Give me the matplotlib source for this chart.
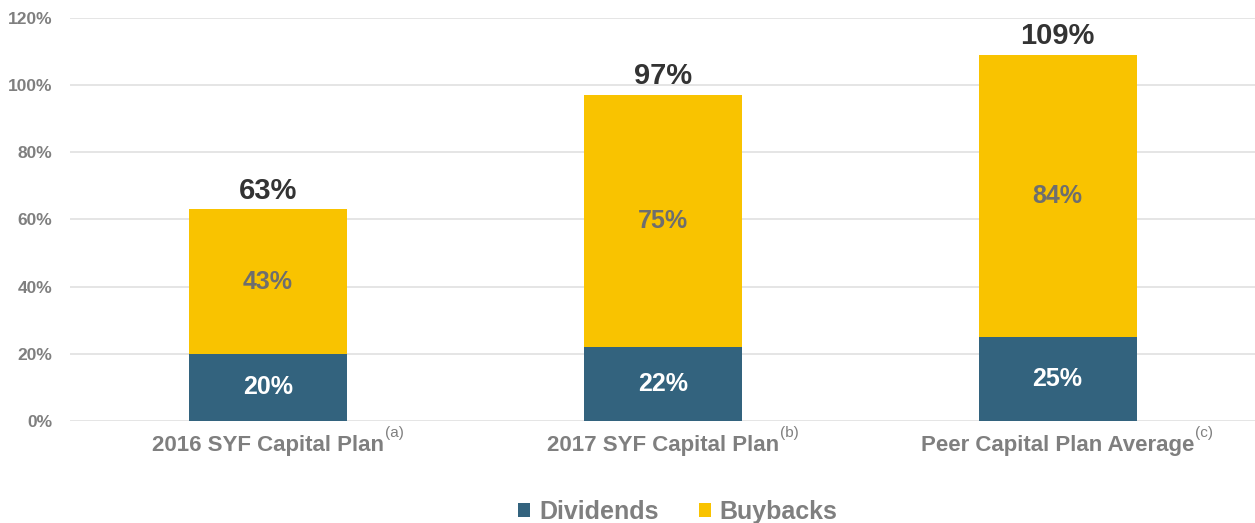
import matplotlib.pyplot as plt
import numpy as np

plt.rcParams['font.family'] = ['Liberation Sans', 'DejaVu Sans']

plans = ["2016 SYF Capital Plan", "2017 SYF Capital Plan", "Peer Capital Plan Average"]
notes = ["(a)", "(b)", "(c)"]
dividends = [20, 22, 25]
buybacks = [43, 75, 84]
totals = [63, 97, 109]

blue = "#33637e"
gold = "#f9c300"
grey = "#7f7f7f"

fig = plt.figure(figsize=(12.55, 5.23), dpi=100)
ax = fig.add_axes([0.056, 0.195, 0.944, 0.771])

x = np.arange(len(plans))
w = 0.40
ax.bar(x, dividends, w, color=blue, label="Dividends", zorder=3)
ax.bar(x, buybacks, w, bottom=dividends, color=gold, label="Buybacks", zorder=3)

for i in x:
    ax.text(i, dividends[i] / 2, f"{dividends[i]}%", ha="center", va="center",
            color="white", fontsize=18, fontweight="bold", zorder=4)
    ax.text(i, dividends[i] + buybacks[i] / 2, f"{buybacks[i]}%", ha="center", va="center",
            color="#6e6e6e", fontsize=18, fontweight="bold", zorder=4)
    ax.text(i, totals[i] + 1.4, f"{totals[i]}%", ha="center", va="bottom",
            color="#333333", fontsize=21, fontweight="bold", zorder=4)

ax.set_xlim(-0.5, 2.5)
ax.set_ylim(0, 120)
ax.set_yticks(range(0, 121, 20))
ax.set_yticklabels([f"{v}%" for v in range(0, 121, 20)], color=grey, fontsize=12.5, fontweight="bold")
ax.set_xticks(x)
ax.set_xticklabels(plans, color=grey, fontsize=16, fontweight="bold")
ax.tick_params(axis="both", length=0)
ax.tick_params(axis="y", pad=13)
ax.tick_params(axis="x", pad=10)
ax.grid(axis="y", color="#e0e0e0", linewidth=1.2, zorder=0)
for s in ax.spines.values():
    s.set_visible(False)

# footnote markers after each category label
fig.canvas.draw()
for lab, n in zip(ax.get_xticklabels(), notes):
    bb = lab.get_window_extent()
    fig.text((bb.x1 + 1) / fig.bbox.width, (bb.y1 + 2) / fig.bbox.height, n,
             color=grey, fontsize=11, ha="left", va="center")

leg = fig.legend(loc="lower center", bbox_to_anchor=(0.54, -0.045), ncol=2, frameon=False,
                 handlelength=0.5, handleheight=0.5, handletextpad=0.35, columnspacing=1.6,
                 prop={"size": 18, "weight": "bold"})
for t in leg.get_texts():
    t.set_color(grey)

fig.savefig("out.png", dpi=100)
